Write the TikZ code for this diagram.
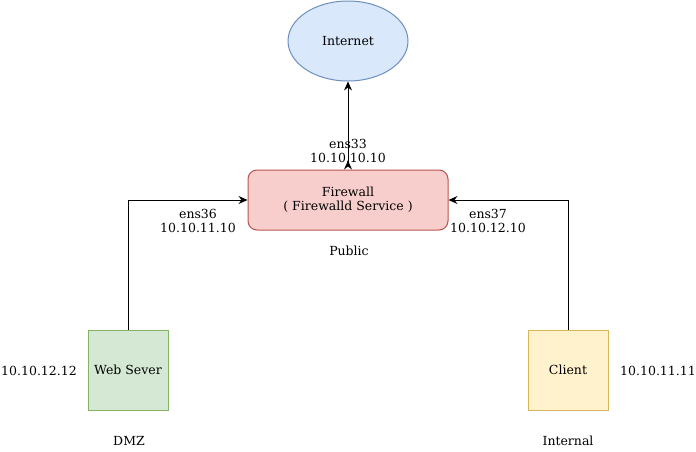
\documentclass[tikz,border=0pt]{standalone}
\usepackage{fontspec}
\setmainfont{DejaVu Serif}
\usetikzlibrary{shapes.geometric, arrows.meta, positioning}
\definecolor{netfill}{HTML}{DAE8FC}
\definecolor{netline}{HTML}{6C8EBF}
\definecolor{fwfill}{HTML}{F8CECC}
\definecolor{fwline}{HTML}{B85450}
\definecolor{dmzfill}{HTML}{D5E8D4}
\definecolor{dmzline}{HTML}{82B366}
\definecolor{lanfill}{HTML}{FFF2CC}
\definecolor{lanline}{HTML}{D6B656}
\begin{document}
\begin{tikzpicture}[
    x=1pt, y=-1pt,
    font=\fontsize{12.5}{14}\selectfont,
    every node/.style={line width=1pt},
    cloud/.style={draw=netline, fill=netfill, ellipse, minimum width=120pt, minimum height=80pt, inner sep=0pt},
    firewall/.style={draw=fwline, fill=fwfill, rounded corners=9pt, minimum width=200pt, minimum height=60pt, align=center},
    host/.style={draw, minimum width=80pt, minimum height=80pt, inner sep=0pt},
    label/.style={align=center, inner sep=0pt},
    arrow/.style={-{Stealth[length=9pt, width=8pt, inset=3pt]}, line width=1pt},
    twoway/.style={{Stealth[reversed, length=9pt, width=8pt, inset=3pt]}-{Stealth[length=9pt, width=8pt, inset=3pt]}, line width=1pt}
]
    \useasboundingbox (0,0) rectangle (696,451);
    % Nodes
    \node[cloud] (inet) at (348,41) {Internet};
    \node[firewall] (fw) at (348,200) {Firewall\\( Firewalld Service )};
    \node[host, draw=dmzline, fill=dmzfill] (web) at (128,370) {Web Sever};
    \node[host, draw=lanline, fill=lanfill] (client) at (568,370) {Client};

    % Interface labels
    \node[label] (ens33) at (348,151) {ens33\\10.10.10.10};
    \node[label] (ens36) at (198,221) {ens36\\10.10.11.10};
    \node[label] (ens37) at (488,221) {ens37\\10.10.12.10};
    \node[label] (public) at (349,251) {Public};
    \node[label] (webip) at (39,371) {10.10.12.12};
    \node[label] (clientip) at (658,371) {10.10.11.11};
    \node[label] (dmz) at (129,441) {DMZ};
    \node[label] (internal) at (568,441) {Internal};

    % Connections
    \draw[twoway] (fw.north) -- (inet.south);
    \draw[arrow] (web.north) |- (fw.west);
    \draw[arrow] (client.north) |- (fw.east);
\end{tikzpicture}
\end{document}
